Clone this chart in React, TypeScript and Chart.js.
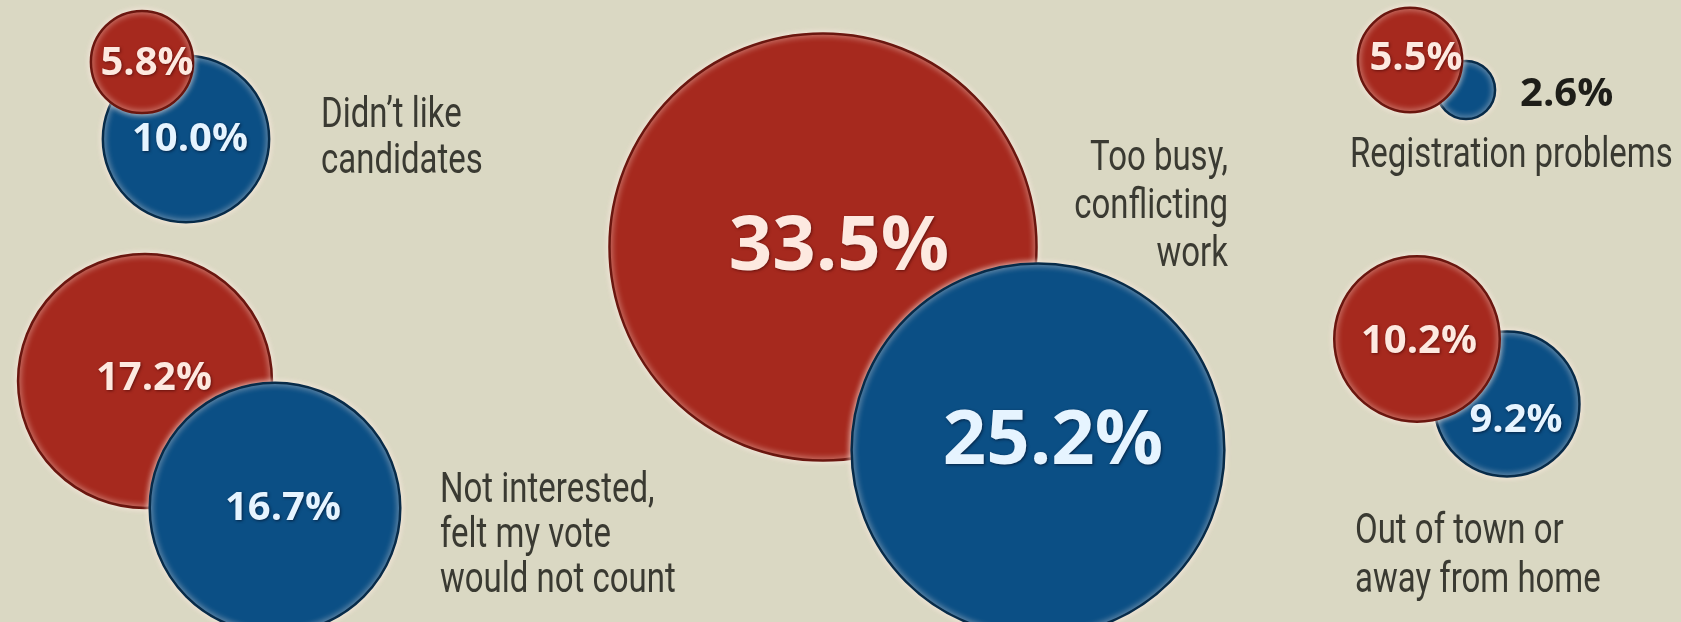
import React, { useEffect, useRef } from "react";
import { Chart, registerables } from "chart.js";

Chart.register(...registerables);

// ---- data ----
const categories = [
  "Didn’t like candidates",
  "Not interested, felt my vote would not count",
  "Too busy, conflicting work",
  "Registration problems",
  "Out of town or away from home",
];
const categoryLines = [
  ["Didn’t like", "candidates"],
  ["Not interested,", "felt my vote", "would not count"],
  ["Too busy,", "conflicting", "work"],
  ["Registration problems"],
  ["Out of town or", "away from home"],
];
const redValues = [5.8, 17.2, 33.5, 5.5, 10.2];
const blueValues = [10.0, 16.7, 25.2, 2.6, 9.2];

// ---- layout (hidden 0..W x 0..H scale) ----
const W = 1681;
const H = 622;
const redCenter = [[142, 62], [145, 381], [823, 247], [1410, 60], [1417, 339]];
const blueCenter = [[186, 139], [275, 508], [1038, 450], [1466, 90], [1507, 404]];
const redSizeTweak = [0.94, 1, 1, 1, 0.98];
const blueSizeTweak = [1, 1.01, 1.09, 1, 0.93];
const redOnTop = [true, false, false, true, true];
const redLabelShift = [[5, -1], [9, -5], [16, -4], [6, -4], [2, 0]];
const blueLabelShift = [[4, -2], [8, -2], [15, -13], [0, 2], [9, 14]];
const blueLabelOutside = [false, false, false, true, false];
const textAnchor = [
  { x: 321, y: 127, align: "left", lh: 46 },
  { x: 440, y: 502, align: "left", lh: 45 },
  { x: 1228, y: 170, align: "right", lh: 48 },
  { x: 1350, y: 167, align: "left", lh: 48 },
  { x: 1355, y: 543, align: "left", lh: 49 },
];

// ---- styles ----
const BG = "#dad8c3";
const RED = "#a6291e";
const RED_EDGE = "#6a160f";
const BLUE = "#0b4f85";
const BLUE_EDGE = "#072b49";
const RED_TEXT = "#fde9e0";
const BLUE_TEXT = "#e6f4ff";
const CAT_TEXT = "#3a3a32";

const radiusFor = (v: number) => 13.8 * Math.pow(v, 0.78);

export default function App() {
  const ref = useRef<HTMLCanvasElement | null>(null);

  useEffect(() => {
    if (!ref.current) return;

    const datasets = categories.map((cat, i) => {
      const red = {
        x: redCenter[i][0],
        y: redCenter[i][1],
        r: radiusFor(redValues[i]) * redSizeTweak[i],
        value: redValues[i],
        series: "red",
        shift: redLabelShift[i],
        outside: false,
      };
      const blue = {
        x: blueCenter[i][0],
        y: blueCenter[i][1],
        r: radiusFor(blueValues[i]) * blueSizeTweak[i],
        value: blueValues[i],
        series: "blue",
        shift: blueLabelShift[i],
        outside: blueLabelOutside[i],
      };
      const pts = redOnTop[i] ? [blue, red] : [red, blue];
      return {
        label: cat,
        data: pts,
        backgroundColor: pts.map((p) => (p.series === "red" ? RED : BLUE)),
        borderColor: pts.map((p) => (p.series === "red" ? RED_EDGE : BLUE_EDGE)),
        borderWidth: 2.5,
        hoverBorderWidth: 2.5,
        clip: false as any,
      };
    });

    const bgPlugin = {
      id: "bg",
      beforeDraw(chart: any) {
        const ctx = chart.ctx;
        ctx.save();
        ctx.fillStyle = BG;
        ctx.fillRect(0, 0, chart.width, chart.height);
        ctx.restore();
      },
      beforeDatasetsDraw(chart: any) {
        const ctx = chart.ctx;
        ctx.save();
        ctx.shadowColor = "rgba(255,236,226,0.9)";
        ctx.shadowBlur = 6;
      },
      afterDatasetsDraw(chart: any) {
        const ctx = chart.ctx;
        ctx.restore();
        // value labels
        chart.data.datasets.forEach((ds: any, di: number) => {
          const meta = chart.getDatasetMeta(di);
          meta.data.forEach((el: any, j: number) => {
            const p = ds.data[j];
            const big = p.r > 150;
            const size = big ? 76 : 40;
            const txt = p.value.toFixed(1) + "%";
            ctx.save();
            ctx.font = `700 ${size}px "Open Sans", sans-serif`;
            ctx.textBaseline = "alphabetic";
            let x = el.x + p.shift[0];
            const y = el.y + p.shift[1] + size * 0.357;
            if (p.outside) {
              ctx.textAlign = "left";
              x = el.x + p.r + 25;
              ctx.fillStyle = "#1e1e19";
            } else {
              ctx.textAlign = "center";
              ctx.fillStyle = p.series === "red" ? RED_TEXT : BLUE_TEXT;
              ctx.shadowColor = p.series === "red" ? "rgba(60,0,0,0.6)" : "rgba(0,15,40,0.7)";
              ctx.shadowBlur = 3;
              ctx.shadowOffsetX = 1;
              ctx.shadowOffsetY = 1;
            }
            ctx.fillText(txt, x, y);
            ctx.restore();
          });
        });
      },
      afterDraw(chart: any) {
        const ctx = chart.ctx;
        const xs = chart.scales.x;
        const ys = chart.scales.y;
        categoryLines.forEach((lines, i) => {
          const a = textAnchor[i];
          lines.forEach((line, k) => {
            ctx.save();
            ctx.translate(xs.getPixelForValue(a.x), ys.getPixelForValue(a.y + k * a.lh));
            ctx.scale(0.785, 1);
            ctx.font = `400 42px Roboto, sans-serif`;
            ctx.textAlign = a.align as CanvasTextAlign;
            ctx.textBaseline = "alphabetic";
            ctx.fillStyle = CAT_TEXT;
            ctx.fillText(line, 0, 0);
            ctx.restore();
          });
        });
      },
    };

    const chart = new Chart(ref.current, {
      type: "bubble",
      data: { datasets: datasets as any },
      options: {
        animation: false,
        responsive: false,
        events: [],
        layout: { padding: 0, autoPadding: false },
        scales: {
          x: { type: "linear", min: 0, max: W, display: false },
          y: { type: "linear", min: 0, max: H, reverse: true, display: false },
        },
        plugins: {
          legend: { display: false },
          tooltip: { enabled: false },
        },
      },
      plugins: [bgPlugin],
    });

    return () => chart.destroy();
  }, []);

  return (
    <div style={{ position: "absolute", left: 0, top: 0, width: W, height: H, background: BG }}>
      <canvas ref={ref} width={W} height={H} style={{ display: "block" }} />
    </div>
  );
}
